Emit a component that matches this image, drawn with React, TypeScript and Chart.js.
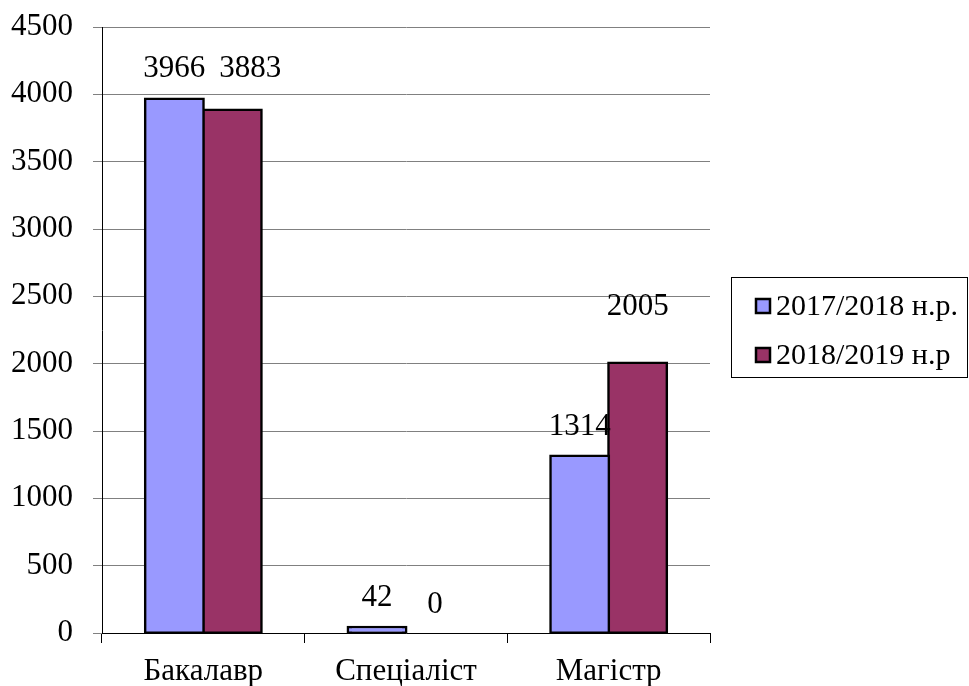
import React, { useEffect, useRef } from "react";
import { Chart, registerables } from "chart.js";

Chart.register(...registerables);

const categories = ["Бакалавр", "Спеціаліст", "Магістр"];
const series2017 = [3966, 42, 1314];
const series2018 = [3883, 0, 2005];
const seriesNames = ["2017/2018 н.р.", "2018/2019 н.р"];
const seriesColors = ["#9999FF", "#993366"];
const yMin = 0;
const yMax = 4500;
const yStep = 500;

const FONT = "'Liberation Serif', 'Times New Roman', serif";

// label placement tweaks (px) per [dataset][point]: lift above bar top, horizontal shift
const labelLift = [
  [30, 29, 29],
  [41, 28, 56],
];
const labelShift = [
  [0, 0, 0],
  [18, 0, 0],
];

const valueLabelPlugin = {
  id: "valueLabels",
  afterDatasetsDraw(chart: any) {
    const ctx = chart.ctx;
    ctx.save();
    ctx.font = `31px ${FONT}`;
    ctx.fillStyle = "#000";
    ctx.textAlign = "center";
    ctx.textBaseline = "middle";
    chart.data.datasets.forEach((ds: any, di: number) => {
      const meta = chart.getDatasetMeta(di);
      meta.data.forEach((el: any, i: number) => {
        ctx.fillText(String(ds.data[i]), el.x + labelShift[di][i], el.y - labelLift[di][i]);
      });
    });
    ctx.restore();
  },
};

const boxLegendPlugin = {
  id: "boxLegend",
  afterDraw(chart: any) {
    const ctx = chart.ctx;
    ctx.save();
    ctx.strokeStyle = "#000";
    ctx.lineWidth = 1;
    ctx.strokeRect(731.5, 277.5, 236, 100);
    ctx.font = `30px ${FONT}`;
    ctx.textAlign = "left";
    ctx.textBaseline = "middle";
    chart.data.datasets.forEach((ds: any, di: number) => {
      const cy = 306 + di * 49;
      ctx.fillStyle = ds.backgroundColor;
      ctx.fillRect(756, cy - 7, 14, 14);
      ctx.lineWidth = 2.5;
      ctx.strokeStyle = "#000";
      ctx.strokeRect(756, cy - 7, 14, 14);
      ctx.fillStyle = "#000";
      ctx.fillText(ds.label, 776, cy + 1);
    });
    ctx.restore();
  },
};

export default function App() {
  const ref = useRef<HTMLCanvasElement | null>(null);

  useEffect(() => {
    if (!ref.current) return;
    const chart = new Chart(ref.current, {
      type: "bar",
      data: {
        labels: categories,
        datasets: [
          {
            label: seriesNames[0],
            data: series2017,
            backgroundColor: seriesColors[0],
            borderColor: "#000",
            borderWidth: 2.5,
            borderSkipped: false,
            inflateAmount: 1.5,
            categoryPercentage: 0.572,
            barPercentage: 1,
          },
          {
            label: seriesNames[1],
            data: series2018,
            backgroundColor: seriesColors[1],
            borderColor: "#000",
            borderWidth: 2.5,
            borderSkipped: false,
            inflateAmount: 1.5,
            categoryPercentage: 0.572,
            barPercentage: 1,
          },
        ],
      },
      options: {
        animation: false,
        responsive: false,
        maintainAspectRatio: false,
        layout: { padding: { top: 27, right: 259, bottom: 0, left: 0 } },
        plugins: {
          legend: { display: false },
          tooltip: { enabled: false },
        },
        scales: {
          x: {
            offset: true,
            grid: {
              display: true,
              drawOnChartArea: false,
              tickLength: 10,
              color: "#000",
              offset: true,
            },
            border: { color: "#000", width: 1 },
            ticks: {
              color: "#000",
              font: { family: FONT, size: 31 },
              padding: 10,
            },
            afterFit(scale: any) {
              scale.height = 53;
              scale.paddingLeft = 0;
              scale.paddingRight = 0;
            },
          },
          y: {
            min: yMin,
            max: yMax,
            ticks: {
              stepSize: yStep,
              color: "#000",
              font: { family: FONT, size: 31 },
              padding: 20,
              callback: (v: any) => String(v),
            },
            grid: { color: "#808080", tickLength: 9, lineWidth: 1 },
            border: { color: "#000", width: 1 },
            afterFit(scale: any) {
              scale.width = 102;
              scale.paddingTop = 0;
              scale.paddingBottom = 0;
            },
          },
        },
      },
      plugins: [valueLabelPlugin, boxLegendPlugin],
    });
    return () => chart.destroy();
  }, []);

  return (
    <div style={{ position: "fixed", left: 0, top: 0, width: 969, height: 686, background: "#fff" }}>
      <canvas ref={ref} width={969} height={686} style={{ width: 969, height: 686 }} />
    </div>
  );
}
